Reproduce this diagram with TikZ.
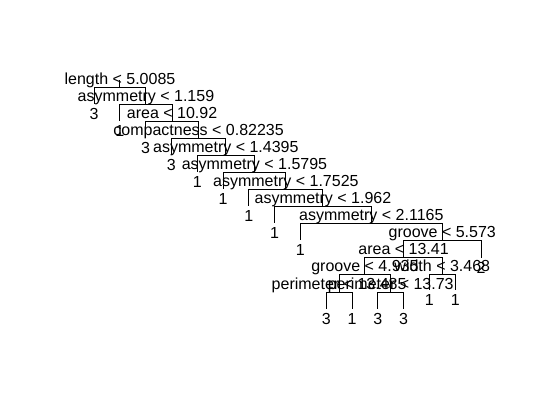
\documentclass[tikz,border=0pt]{standalone}
\usepackage{fontspec}
\setmainfont{Liberation Sans}
\usetikzlibrary{positioning}

\begin{document}
\begin{tikzpicture}[x=0.75pt,y=-0.75pt,line width=0.75pt,
  every node/.style={font=\fontsize{12}{14}\selectfont,inner sep=0pt},
  splitlbl/.style={anchor=base,yshift=2.6pt},
  leaflbl/.style={anchor=base,yshift=-11.6pt}]
  \useasboundingbox (0,0) rectangle (537,416);
  % split points
  \coordinate (n1) at (119.98,87.5);  \coordinate (n2) at (145.95,104.5);
  \coordinate (n3) at (172.1,121.5);  \coordinate (n4) at (198.61,138.5);
  \coordinate (n5) at (225.82,155.5); \coordinate (n6) at (254.45,172.5);
  \coordinate (n7) at (285.89,189.5); \coordinate (n8) at (322.98,207);
  \coordinate (n9) at (371.35,224);   \coordinate (n10) at (442.3,241);
  \coordinate (n11) at (403.6,258);   \coordinate (n12) at (364.9,275);
  \coordinate (n13) at (442.3,275);   \coordinate (n14) at (339.1,293);
  \coordinate (n15) at (390.7,293);
  \coordinate (top) at (119.98,80);
  % leaves
  \coordinate (l1) at (94,104);     \coordinate (l2) at (119.8,121);
  \coordinate (l3) at (145.6,138);  \coordinate (l4) at (171.4,155);
  \coordinate (l5) at (197.2,172);  \coordinate (l6) at (223,189);
  \coordinate (l7) at (248.8,206);  \coordinate (l8) at (274.6,223);
  \coordinate (l9) at (300.4,240);  \coordinate (l10) at (326.2,309);
  \coordinate (l11) at (352,309);   \coordinate (l12) at (377.8,309);
  \coordinate (l13) at (403.6,309); \coordinate (l14) at (429.4,290);
  \coordinate (l15) at (455.2,290); \coordinate (l16) at (481,258);
  % branches
  \draw (n1) -- (top);
  \foreach \p/\c in {n1/l1,n1/n2,n2/l2,n2/n3,n3/l3,n3/n4,n4/l4,n4/n5,
    n5/l5,n5/n6,n6/l6,n6/n7,n7/l7,n7/n8,n8/l8,n8/n9,n9/l9,n9/n10,
    n10/n11,n10/l16,n11/n12,n11/n13,n12/n14,n12/n15,n14/l10,n14/l11,
    n15/l12,n15/l13,n13/l14,n13/l15}
    \draw (\p) -| (\c);
  % split labels
  \node[splitlbl] (s1) at (n1) {length < 5.0085};
  \node[splitlbl] (s2) at (n2) {asymmetry < 1.159};
  \node[splitlbl] (s3) at (n3) {area < 10.92};
  \node[splitlbl] (s4) at (n4) {compactness < 0.82235};
  \node[splitlbl] (s5) at (n5) {asymmetry < 1.4395};
  \node[splitlbl] (s6) at (n6) {asymmetry < 1.5795};
  \node[splitlbl] (s7) at (n7) {asymmetry < 1.7525};
  \node[splitlbl] (s8) at (n8) {asymmetry < 1.962};
  \node[splitlbl] (s9) at (n9) {asymmetry < 2.1165};
  \node[splitlbl] (s10) at (n10) {groove < 5.573};
  \node[splitlbl] (s11) at (n11) {area < 13.41};
  \node[splitlbl] (s12) at (n12) {groove < 4.935};
  \node[splitlbl] (s13) at (n13) {width < 3.468};
  \node[splitlbl] (s14) at (n14) {perimeter < 13.485};
  \node[splitlbl] (s15) at (n15) {perimeter < 13.73};
  % leaf labels
  \foreach \c/\v in {l1/3,l2/1,l3/3,l4/3,l5/1,l6/1,l7/1,l8/1,l9/1,
    l10/3,l11/1,l12/3,l13/3,l14/1,l15/1,l16/2}
    \node[leaflbl] (c\c) at (\c) {\v};
\end{tikzpicture}
\end{document}
